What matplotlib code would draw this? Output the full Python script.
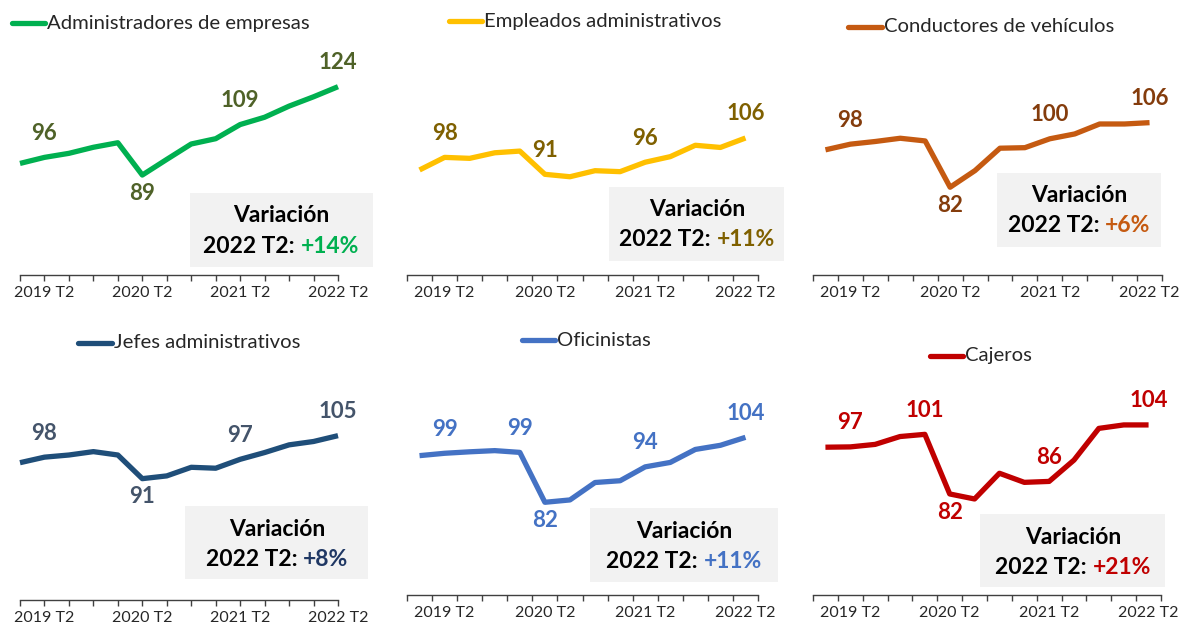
import matplotlib.pyplot as plt
from matplotlib.lines import Line2D
from matplotlib.patches import Rectangle

W, H = 1182, 627

quarters = ['2019 T1', '2019 T2', '2019 T3', '2019 T4',
            '2020 T1', '2020 T2', '2020 T3', '2020 T4',
            '2021 T1', '2021 T2', '2021 T3', '2021 T4',
            '2022 T1', '2022 T2']
shown_ticks = ['2019 T2', '2020 T2', '2021 T2', '2022 T2']

admin_empresas = [93.6, 96.0, 97.6, 100.0, 101.8, 89.0, 95.2, 101.3, 103.4, 109.0, 111.9, 116.3, 120.0, 124.0]
empleados_admin = [92.8, 98.0, 97.6, 99.9, 100.6, 91.0, 90.0, 92.5, 92.1, 96.0, 98.3, 103.0, 102.1, 106.0]
conductores = [95.9, 98.0, 99.0, 100.2, 99.2, 82.0, 88.2, 96.5, 96.7, 100.0, 101.8, 105.5, 105.5, 106.0]
jefes_admin = [96.2, 98.0, 98.7, 99.8, 98.7, 91.0, 91.9, 94.7, 94.4, 97.3, 99.5, 102.0, 103.1, 105.0]
oficinistas = [97.8, 98.6, 99.1, 99.5, 98.9, 82.0, 82.8, 88.7, 89.3, 94.0, 95.5, 99.9, 101.3, 104.0]
cajeros = [96.9, 97.0, 97.8, 100.3, 101.0, 82.0, 80.4, 88.6, 85.7, 86.0, 92.8, 102.9, 104.0, 104.0]

names = ['Administradores de empresas', 'Empleados administrativos', 'Conductores de vehículos',
         'Jefes administrativos', 'Oficinistas', 'Cajeros']
series = [admin_empresas, empleados_admin, conductores, jefes_admin, oficinistas, cajeros]
variaciones = ['+14%', '+11%', '+6%', '+8%', '+11%', '+21%']
label_idx = [[1, 5, 9, 13], [1, 5, 9, 13], [1, 5, 9, 13],
             [1, 5, 9, 13], [1, 4, 5, 9, 13], [1, 4, 5, 9, 13]]
label_below = [[5], [], [5], [5], [5], [5]]

line_colors = ['#00B050', '#FFC000', '#C55A11', '#1F4E79', '#4472C4', '#C00000']
label_colors = ['#4F6228', '#7F6000', '#843C0C', '#44546A', '#4472C4', '#C00000']
pct_colors = ['#00B050', '#7F6000', '#C55A11', '#203864', '#4472C4', '#C00000']

# layout in pixels: axes (left, top, right, bottom), on-tick or between, ylim,
# legend (x0, x1, y), box (x0, y0, x1, y1), text centre x, line ys
panels = [
    dict(axes=(20, 40, 338, 275), on_tick=True, ylim=(49.4, 142.5),
         legend=(12, 45, 23), box=(190, 193, 373, 267), cx=281, ty=(216, 246)),
    dict(axes=(407, 40, 758, 275), on_tick=False, ylim=(49.4, 146.5),
         legend=(449, 482, 21), box=(609, 187, 784, 261), cx=697, ty=(210, 240)),
    dict(axes=(813, 40, 1162, 275), on_tick=False, ylim=(49.4, 136.7),
         legend=(848, 882, 27), box=(997, 173, 1161, 247), cx=1079, ty=(196, 226)),
    dict(axes=(20, 365, 338, 600), on_tick=True, ylim=(51.5, 128.0),
         legend=(78, 112, 343), box=(185, 506, 368, 579), cx=277, ty=(529, 559)),
    dict(axes=(407, 365, 758, 595), on_tick=False, ylim=(50.6, 128.5),
         legend=(522, 555, 340), box=(590, 508, 778, 582), cx=684, ty=(531, 561)),
    dict(axes=(813, 365, 1161, 595), on_tick=False, ylim=(49.8, 123.1),
         legend=(930, 963, 356), box=(980, 514, 1165, 587), cx=1073, ty=(538, 568)),
]

plt.rcParams['font.family'] = ['Lato', 'DejaVu Sans']

fig = plt.figure(figsize=(W / 100, H / 100), dpi=100)


def fx(px):
    return px / W


def fy(py):
    return 1 - py / H


x = list(range(len(quarters)))
pending = []
for i, p in enumerate(panels):
    l, t, r, b = p['axes']
    ax = fig.add_axes([fx(l), fy(b), fx(r) - fx(l), fy(t) - fy(b)])
    ax.patch.set_alpha(0)
    vals = series[i]
    ax.plot(x, vals, color=line_colors[i], lw=3.8, solid_joinstyle='round',
            solid_capstyle='butt', clip_on=False)
    if p['on_tick']:
        ax.set_xlim(0, len(x) - 1)
        ax.set_xticks(x)
    else:
        ax.set_xlim(-0.5, len(x) - 0.5)
        ax.set_xticks([k - 0.5 for k in range(len(x) + 1)])
    ax.set_xticklabels([])
    ax.xaxis.remove_overlapping_locs = False
    ax.set_xticks([quarters.index(q) for q in shown_ticks], shown_ticks, minor=True)
    ax.tick_params(axis='x', which='major', length=4.3, width=1, color='#404040', direction='out')
    ax.tick_params(axis='x', which='minor', length=0, pad=8, labelsize=11.5, labelcolor='#262626')
    ax.set_ylim(*p['ylim'])
    ax.set_yticks([])
    for s in ['top', 'right', 'left']:
        ax.spines[s].set_visible(False)
    ax.spines['bottom'].set_color('#404040')
    ax.spines['bottom'].set_linewidth(1)

    for k in label_idx[i]:
        below = k in label_below[i]
        ax.annotate(f'{round(vals[k])}', (k, vals[k]), xytext=(0, -13 if below else 17.3),
                    textcoords='offset points', ha='center', va='center',
                    fontsize=16, fontweight='bold', color=label_colors[i])

    # legend
    lx0, lx1, ly = p['legend']
    fig.add_artist(Line2D([fx(lx0), fx(lx1)], [fy(ly), fy(ly)], transform=fig.transFigure,
                          color=line_colors[i], lw=3.8, solid_capstyle='round'))
    fig.text(fx(lx1 + 2), fy(ly), names[i], ha='left', va='center', fontsize=14.6, color='#262626')

    # variation box
    bx0, by0, bx1, by1 = p['box']
    fig.add_artist(Rectangle((fx(bx0), fy(by1)), fx(bx1) - fx(bx0), fy(by0) - fy(by1),
                             transform=fig.transFigure, facecolor='#F2F2F2',
                             edgecolor='none', zorder=-1))
    fig.text(fx(p['cx']), fy(p['ty'][0]), 'Variación', ha='center', va='center',
             fontsize=16.5, fontweight='bold', color='black')
    t1 = fig.text(0, fy(p['ty'][1]), '2022 T2: ', ha='left', va='center',
                  fontsize=16.5, fontweight='bold', color='black')
    t2 = fig.text(0, fy(p['ty'][1]), variaciones[i], ha='left', va='center',
                  fontsize=16.5, fontweight='bold', color=pct_colors[i])
    pending.append((p['cx'], t1, t2))

renderer = fig.canvas.get_renderer()
for cx, t1, t2 in pending:
    w1 = t1.get_window_extent(renderer).width
    w2 = t2.get_window_extent(renderer).width
    start = cx - (w1 + w2) / 2
    t1.set_x(fx(start))
    t2.set_x(fx(start + w1))

fig.savefig('out.png', dpi=100)
